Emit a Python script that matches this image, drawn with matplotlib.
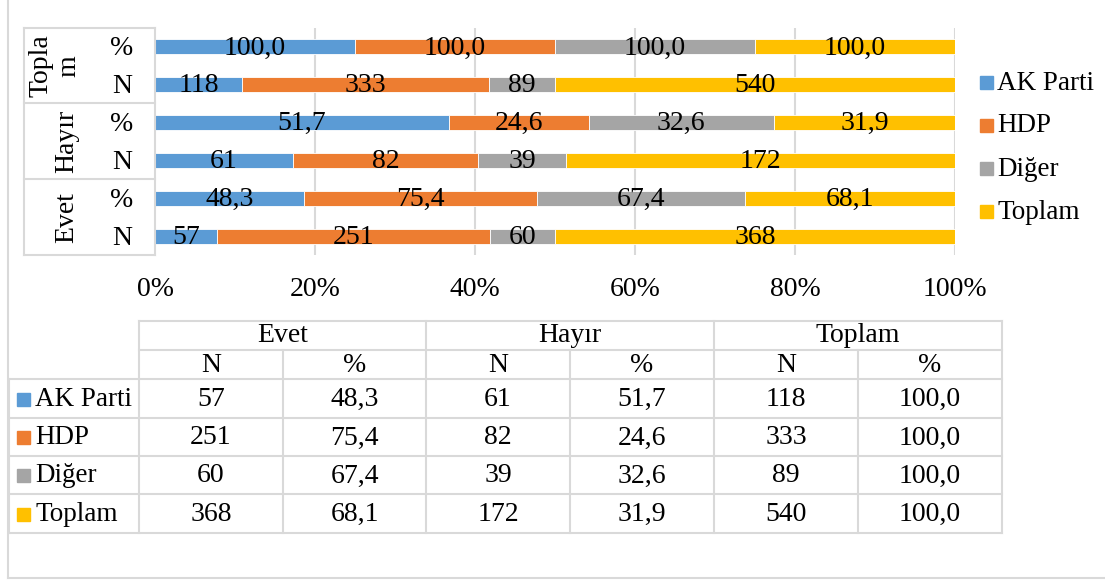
import matplotlib
matplotlib.use("Agg")
import matplotlib.pyplot as plt
from matplotlib.lines import Line2D
from matplotlib.patches import Rectangle

plt.rcParams['font.family'] = ['Liberation Serif', 'DejaVu Serif']

# ---- data ----
series = ['AK Parti', 'HDP', 'Diğer', 'Toplam']
colors = ['#5B9BD5', '#ED7D31', '#A5A5A5', '#FFC000']
groups = ['Evet', 'Hayır', 'Toplam']
group_axis_labels = ['Evet', 'Hayır', 'Topla\nm']
sub_labels = ['N', '%']
evet_n = [57, 251, 60, 368]
evet_pct = [48.3, 75.4, 67.4, 68.1]
hayir_n = [61, 82, 39, 172]
hayir_pct = [51.7, 24.6, 32.6, 31.9]
toplam_n = [118, 333, 89, 540]
toplam_pct = [100.0, 100.0, 100.0, 100.0]
x_ticks = [0, 20, 40, 60, 80, 100]

rows = [evet_n, evet_pct, hayir_n, hayir_pct, toplam_n, toplam_pct]  # bottom -> top
row_is_pct = [False, True, False, True, False, True]

def fmt(v, pct):
    return f"{v:.1f}".replace('.', ',') if pct else f"{int(v)}"

W, H = 1105, 580
fig = plt.figure(figsize=(W / 100, H / 100), dpi=100)
FS = 20
FS_LAB = 19.5
GRID = '#D9D9D9'

def fx(px):
    return px / W

def fy(py):
    return 1 - py / H

def fline(x0, y0, x1, y1, lw=1.5, color=GRID):
    fig.add_artist(Line2D([fx(x0), fx(x1)], [fy(y0), fy(y1)], color=color, lw=lw,
                          transform=fig.transFigure))

# outer frame
fline(8, 0, 8, 578)
fline(8, 578, 1105, 578)

# ---- chart ----
ax_l, ax_r, ax_t, ax_b = 155, 955, 28, 255
ax = fig.add_axes([fx(ax_l), fy(ax_b), fx(ax_r - ax_l), (ax_b - ax_t) / H])
bar_h = 0.4
for i, row in enumerate(rows):
    total = sum(row)
    left = 0.0
    for j, v in enumerate(row):
        w = v / total * 100
        ax.barh(i, w, left=left, height=bar_h, color=colors[j], edgecolor='white', linewidth=0.6)
        ax.text(left + w / 2, i - 0.03, fmt(v, row_is_pct[i]), ha='center', va='center',
                fontsize=FS, color='black')
        left += w
ax.set_xlim(0, 100)
ax.set_ylim(-0.5, len(rows) - 0.5)
ax.set_xticks(x_ticks)
ax.set_xticklabels([f"{t}%" for t in x_ticks], fontsize=FS)
ax.tick_params(axis='x', length=0, pad=16)
ax.set_yticks([])
for s in ['top', 'right', 'bottom']:
    ax.spines[s].set_visible(False)
ax.spines['left'].set_color(GRID)
ax.spines['left'].set_linewidth(1.5)
for t in x_ticks[1:]:
    ax.axvline(t, color=GRID, lw=1.5, zorder=0)
ax.set_axisbelow(True)

# multi-level category axis
fline(24, 28, 155, 28)
fline(24, 103, 155, 103)
fline(24, 179, 155, 179)
fline(24, 255, 155, 255)
fline(24, 28, 24, 255)
row_h = (ax_b - ax_t) / len(rows)
for i in range(len(rows)):
    yc = ax_b - (i + 0.5) * row_h
    fig.text(fx(122), fy(yc + 2), sub_labels[i % 2], ha='center', va='center', fontsize=FS)
group_x = [67, 67, 55]
for g, lab in enumerate(group_axis_labels):
    yc = ax_b - (2 * g + 1) * row_h
    fig.text(fx(group_x[g]), fy(yc), lab, ha='center', va='center', rotation=90,
             fontsize=FS, multialignment='center', linespacing=1.15)

# legend
leg_y = [82, 125, 168, 211]
for j, s in enumerate(series):
    fig.add_artist(Rectangle((fx(980), fy(leg_y[j] + 7)), fx(13), 13 / H, color=colors[j],
                             transform=fig.transFigure))
    fig.text(fx(997), fy(leg_y[j] + 1), s, ha='left', va='center', fontsize=FS_LAB)

# ---- data table ----
col_x = [139, 283, 426, 570, 714, 858, 1002]
body_y = [379, 418, 456, 494, 533]
fline(139, 321, 1002, 321)
fline(139, 350, 1002, 350)
for y in body_y:
    fline(9, y, 1002, y)
fline(9, 379, 9, 533)
for k, x in enumerate(col_x):
    top = 350 if k in (1, 3, 5) else 321
    fline(x, top, x, 533)

for g, gname in enumerate(groups):
    xc = (col_x[2 * g] + col_x[2 * g + 2]) / 2
    fig.text(fx(xc), fy(336), gname, ha='center', va='center', fontsize=FS)
    for k, sl in enumerate(sub_labels):
        xc2 = (col_x[2 * g + k] + col_x[2 * g + k + 1]) / 2
        fig.text(fx(xc2), fy(365), sl, ha='center', va='center', fontsize=FS)

table_cols = [evet_n, evet_pct, hayir_n, hayir_pct, toplam_n, toplam_pct]
for r, s in enumerate(series):
    yc = (body_y[r] + body_y[r + 1]) / 2
    fig.add_artist(Rectangle((fx(17), fy(yc + 7)), fx(13), 13 / H, color=colors[r],
                             transform=fig.transFigure))
    fig.text(fx(35), fy(yc + 1), s, ha='left', va='center', fontsize=FS_LAB)
    for c, col in enumerate(table_cols):
        xc = (col_x[c] + col_x[c + 1]) / 2
        fig.text(fx(xc), fy(yc + 1), fmt(col[r], c % 2 == 1), ha='center', va='center',
                 fontsize=FS)

fig.savefig('out.png', dpi=100)
